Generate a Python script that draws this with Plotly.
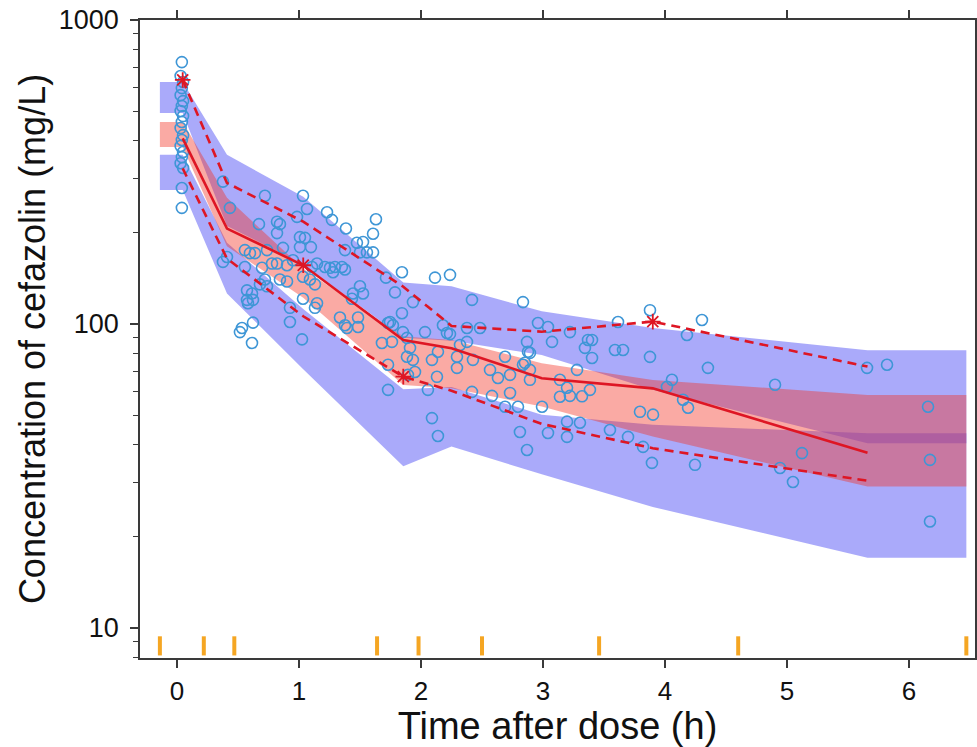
import plotly.graph_objects as go

# ---------------- data ----------------
bin_edges = [-0.14, 0.22, 0.47, 1.64, 1.98, 2.5, 3.46, 4.6, 6.47]
bin_time = [0.047, 0.41, 1.035, 1.855, 2.25, 2.99, 3.9, 5.66]

obs_median = [408, 206, 156, 88.5, 83.2, 66.3, 61.4, 37.7]
obs_p95 = [635, 291, 217, 132.6, 98.5, 94.3, 101.8, 72.4]
obs_p5 = [325, 164, 106, 67.1, 60.3, 46.9, 39.0, 30.5]

# simulated CIs (upper percentile, median, lower percentile)
p95_ci_hi = [625, 360, 262, 137, 133, 110, 97, 82]
p95_ci_lo = [494, 210, 157, 90, 88, 79, 60.7, 40.5]
med_ci_hi = [462, 260, 152, 91, 88.5, 74.3, 65.4, 58.4]
med_ci_lo = [382, 180, 122, 63, 61.4, 53.5, 42.6, 29.2]
p5_ci_hi = [360, 185, 112, 61, 62, 50.3, 46.6, 43.7]
p5_ci_lo = [276, 126, 71, 34, 39.5, 32, 25, 17]

obs_time = [0.04, 0.03, 0.05, 0.04, 0.03, 0.05, 0.04, 0.03, 0.05, 0.04,
            0.03, 0.05, 0.04, 0.03, 0.05, 0.04, 0.03, 0.05, 0.04, 0.04,
            0.377, 0.434, 0.721, 1.033, 1.066, 1.230, 1.270, 0.820, 0.844, 0.672,
            0.984, 0.820, 1.008, 1.049, 1.385, 1.631, 1.607, 1.475, 1.525, 1.500,
            1.557, 1.607, 1.098, 0.869, 0.557, 0.598, 0.639, 0.410, 0.779, 0.377,
            0.697, 0.557, 0.820, 0.902, 0.951, 1.107, 1.148, 1.213, 1.254, 1.295,
            1.352, 1.377, 1.279, 1.033, 1.090, 1.131, 0.902, 0.844, 0.721, 0.680,
            0.738, 0.574, 0.615, 0.574, 0.623, 0.582, 1.033, 1.148, 1.131, 1.336,
            1.377, 1.484, 1.443, 1.434, 1.500, 1.525, 1.746, 1.770, 1.844, 1.787,
            1.934, 2.115, 2.238, 2.418, 1.844, 0.623, 0.533, 0.926, 0.516, 0.615,
            0.926, 1.025, 1.393, 1.484, 1.680, 1.762, 1.730, 1.730, 1.730, 1.852,
            1.885, 1.910, 1.885, 1.934, 1.951, 2.033, 2.090, 2.139, 2.180, 2.213,
            2.238, 2.295, 2.295, 2.320, 2.377, 2.377, 2.484, 2.426, 2.057, 2.131,
            2.090, 2.139, 2.418, 2.566, 2.631, 2.689, 2.730, 2.582, 2.730, 2.689,
            2.795, 2.811, 2.869, 2.836, 2.836, 2.869, 2.877, 2.959, 3.041, 3.074,
            3.221, 2.893, 2.852, 2.893, 2.893, 2.992, 3.041, 3.197, 3.197, 3.303,
            3.139, 3.139, 3.197, 3.221, 3.320, 3.279, 3.385, 3.344, 3.369, 3.402,
            3.402, 3.615, 3.590, 3.656, 3.549, 3.697, 3.795, 3.902, 3.820, 3.893,
            3.877, 3.877, 4.016, 4.057, 4.148, 4.189, 4.246, 4.180, 4.303, 4.352,
            4.902, 5.123, 4.943, 5.049, 5.656, 5.820, 6.156, 6.172, 6.172, 1.713,
            1.893, 1.377, 0.738, 1.008]
obs_conc = [727, 654, 625, 597, 566, 541, 521, 502, 483, 462,
            441, 418, 403, 385, 368, 354, 338, 326, 280, 241,
            294, 241, 264, 264, 239, 233, 220, 217, 213, 213,
            225, 199, 193, 192, 206, 221, 198, 185, 186, 172,
            172, 172, 179, 178, 175, 171, 171, 166, 158, 160,
            153, 154, 158, 156, 162, 154, 158, 154, 153, 154,
            154, 151, 148, 143, 140, 135, 138, 140, 140, 135,
            133, 129, 126, 120, 120, 117, 121, 117, 113, 105,
            99, 105, 126, 121, 133, 126, 101.5, 99, 148, 127,
            118, 142, 145, 120, 108.5, 101, 97, 101.5, 94, 86.6,
            113, 89, 97, 97.7, 86.6, 87.3, 73.4, 60.7, 100.7, 94,
            90, 83.4, 78, 76.2, 69.5, 94, 76.2, 81, 99, 93.4,
            92.6, 78, 71.7, 85.3, 87.3, 97, 97, 76.2, 60.7, 67,
            49, 42.8, 59.8, 70.6, 66.4, 78, 68, 58, 59.3, 53.4,
            53.4, 44.1, 38.5, 73.4, 118, 87.3, 81, 100.7, 97.7, 87.3,
            94, 80.3, 74.5, 70.6, 65.5, 53.4, 43.8, 42.5, 47.7, 47.3,
            65.5, 57.6, 61.7, 58, 57.8, 70.6, 60.7, 83.4, 88.6, 88.6,
            77.3, 101.5, 82.1, 82.1, 44.8, 42.5, 51.4, 50.3, 39.4, 34.9,
            111, 77.9, 62.1, 65.5, 56.3, 53, 34.4, 92, 103, 71.7,
            63.1, 37.6, 33.6, 30.2, 71.7, 73.4, 53.4, 35.7, 22.4, 142,
            68, 175, 175, 179]

x_ticks = [0, 1, 2, 3, 4, 5, 6]
y_ticks = [10, 100, 1000]
y_minor = [8, 9] + [k * 10 for k in range(2, 10)] + [k * 100 for k in range(2, 10)]

# ---------------- styles ----------------
BLUE = "rgba(85,85,245,0.5)"
SALMON = "rgba(243,48,35,0.41)"
RED = "rgb(222,22,36)"
OBS = "rgb(62,150,214)"
ORANGE = "rgb(245,166,35)"
AX = "#3a3a3a"
FONT = "Liberation Sans, Arial, sans-serif"

band_x = [bin_edges[0]] + bin_time + [bin_edges[-1]]


def ext(v):
    return [v[0]] + list(v) + [v[-1]]


def band(hi, lo, color):
    return go.Scatter(x=band_x + band_x[::-1], y=ext(hi) + ext(lo)[::-1],
                      fill="toself", fillcolor=color, mode="none",
                      hoverinfo="skip", showlegend=False)


fig = go.Figure()
fig.add_trace(band(p95_ci_hi, p95_ci_lo, BLUE))
fig.add_trace(band(p5_ci_hi, p5_ci_lo, BLUE))
fig.add_trace(band(med_ci_hi, med_ci_lo, SALMON))

fig.add_trace(go.Scatter(x=obs_time, y=obs_conc, mode="markers",
                         marker=dict(symbol="circle-open", size=11, color=OBS,
                                     line=dict(width=1.6, color=OBS)),
                         showlegend=False))

fig.add_trace(go.Scatter(x=bin_time, y=obs_median, mode="lines",
                         line=dict(color=RED, width=2.6), showlegend=False))
for series in (obs_p95, obs_p5):
    fig.add_trace(go.Scatter(x=bin_time, y=series, mode="lines",
                             line=dict(color=RED, width=2.6, dash="9px,6px"),
                             showlegend=False))

# asterisks where observed percentile falls outside simulated CI
star_x, star_y = [], []
for obs, hi, lo in ((obs_p95, p95_ci_hi, p95_ci_lo),
                    (obs_median, med_ci_hi, med_ci_lo),
                    (obs_p5, p5_ci_hi, p5_ci_lo)):
    for t, o, h, l in zip(bin_time, obs, hi, lo):
        if o > h or o < l:
            star_x.append(t)
            star_y.append(o)
fig.add_trace(go.Scatter(x=star_x, y=star_y, mode="markers",
                         marker=dict(symbol="asterisk-open", size=13, color=RED,
                                     line=dict(width=1.8, color=RED)),
                         showlegend=False))

# bin boundary rug
for e in bin_edges:
    fig.add_shape(type="line", xref="x", yref="y domain", x0=e, x1=e,
                  y0=0.004, y1=0.034, line=dict(color=ORANGE, width=4))

fig.update_layout(
    width=977, height=747,
    margin=dict(l=140, r=2, t=20, b=89, autoexpand=False),
    paper_bgcolor="white", plot_bgcolor="white",
    showlegend=False,
    font=dict(family=FONT, color="#111"),
    xaxis=dict(range=[-0.303, 6.541], tickvals=x_ticks, automargin=False,
               ticks="outside", ticklen=8, tickwidth=1.5, tickcolor=AX,
               showline=True, linecolor=AX, linewidth=1.5, mirror="ticks",
               showgrid=False, zeroline=False,
               tickfont=dict(size=26, family=FONT, color="#111"),
               ticklabelstandoff=1,
               title=dict(text="Time after dose (h)",
                          font=dict(size=38, family=FONT, color="#111"),
                          standoff=6)),
    yaxis=dict(type="log", range=[0.901, 3.0], tickvals=y_ticks, automargin=False,
               ticktext=[str(v) for v in y_ticks],
               ticks="outside", ticklen=8, tickwidth=1.5, tickcolor=AX,
               minor=dict(tickvals=y_minor, ticks="outside", ticklen=5,
                          tickwidth=1.2, tickcolor=AX, showgrid=False),
               showline=True, linecolor=AX, linewidth=1.5, mirror="ticks",
               showgrid=False, zeroline=False,
               tickfont=dict(size=27, family=FONT, color="#111"),
               ticklabelstandoff=6,
               title=dict(text="Concentration of cefazolin (mg/L)",
                          font=dict(size=36, family=FONT, color="#111"),
                          standoff=2)),
)

fig.write_html("out.html")
